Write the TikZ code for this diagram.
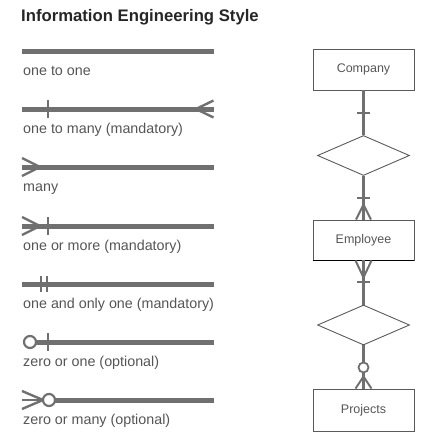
\documentclass[tikz,border=0pt]{standalone}
\usepackage{fontspec}
\setmainfont{Liberation Sans}
\usetikzlibrary{shapes.geometric,calc}
\definecolor{linegray}{HTML}{707070}
\definecolor{textgray}{HTML}{555555}
\definecolor{boxgray}{HTML}{5A5A5A}
\begin{document}
\begin{tikzpicture}[x=1pt,y=1pt,
  legendline/.style={draw=linegray,line width=5pt,line cap=butt},
  legendmark/.style={draw=linegray,line width=2.4pt},
  legendring/.style={draw=linegray,line width=2.2pt,fill=white},
  legendlabel/.style={anchor=base west,inner sep=0pt,text=textgray,font=\fontsize{14.3}{17}\selectfont},
  entity/.style={draw=boxgray,line width=0.9pt,minimum width=101pt,inner sep=0pt,text=textgray,font=\fontsize{12.5}{15}\selectfont},
  relation/.style={draw=boxgray,line width=0.9pt,shape=diamond,minimum width=92pt,minimum height=40pt,inner sep=0pt},
  link/.style={draw=linegray,line width=3pt},
  linkmark/.style={draw=linegray,line width=2pt},
  linkring/.style={draw=linegray,line width=1.8pt,fill=white}]
\useasboundingbox (0,0) rectangle (424,-440);

% title
\node[anchor=base west,inner sep=0pt,text={black!85},font=\fontsize{16.7}{20}\selectfont\bfseries] (title) at (21,-21) {Information Engineering Style};

% ---- legend of line ends ----
% one to one
\coordinate (a1) at (22,-51); \coordinate (b1) at (213.5,-51);
\draw[legendline] (a1) -- (b1);
\node[legendlabel] (t1) at (23,-75) {one to one};

% one to many (mandatory)
\coordinate (a2) at (22,-109); \coordinate (b2) at (213.5,-109);
\draw[legendline] (a2) -- (b2);
\draw[legendmark] (48,-100) -- (48,-118);
\draw[legendmark] (213.5,-100.5) -- (196,-109) -- (213.5,-117.5);
\node[legendlabel] (t2) at (23,-133) {one to many (mandatory)};

% many
\coordinate (a3) at (22,-167); \coordinate (b3) at (213.5,-167);
\draw[legendline] (a3) -- (b3);
\draw[legendmark] (22,-158) -- (40,-167) -- (22,-176);
\node[legendlabel] (t3) at (23,-191) {many};

% one or more (mandatory)
\coordinate (a4) at (22,-226); \coordinate (b4) at (213.5,-226);
\draw[legendline] (a4) -- (b4);
\draw[legendmark] (22,-217) -- (40,-226) -- (22,-235);
\draw[legendmark] (48,-217) -- (48,-235);
\node[legendlabel] (t4) at (23,-250) {one or more (mandatory)};

% one and only one (mandatory)
\coordinate (a5) at (22,-284); \coordinate (b5) at (213.5,-284);
\draw[legendline] (a5) -- (b5);
\draw[legendmark] (41,-276) -- (41,-292);
\draw[legendmark] (47,-276) -- (47,-292);
\node[legendlabel] (t5) at (23,-308) {one and only one (mandatory)};

% zero or one (optional)
\coordinate (a6) at (36,-342); \coordinate (b6) at (213.5,-342);
\draw[legendline] (a6) -- (b6);
\draw[legendmark] (48,-333) -- (48,-351);
\draw[legendring] (30,-342) circle[radius=6];
\node[legendlabel] (t6) at (23,-366) {zero or one (optional)};

% zero or many (optional)
\coordinate (a7) at (49,-400); \coordinate (b7) at (213.5,-400);
\draw[legendline] (a7) -- (b7);
\draw[legendmark] (22,-391) -- (43,-400) -- (22,-409);
\draw[legendmark] (22,-400) -- (43,-400);
\draw[legendring] (49,-400) circle[radius=6];
\node[legendlabel] (t7) at (23,-424) {zero or many (optional)};

% ---- example diagram ----
\node[entity,minimum height=41pt] (company) at (363.5,-69.5) {Company};
\node[relation] (rel1) at (363.5,-155.5) {};
\node[entity,minimum height=40pt] (employee) at (363.5,-240) {Employee};
\node[relation] (rel2) at (363.5,-325) {};
\node[entity,minimum height=42pt] (projects) at (363.5,-410) {Projects};
\draw[black,line width=0.9pt] (employee.south west) -- (employee.south east);

% company -- rel1 : exactly one
\draw[link] (company.south) -- (rel1.north);
\draw[linkmark] ($(company.south)+(-6.5,-23)$) -- ($(company.south)+(6.5,-23)$);

% rel1 -- employee : one or more
\draw[link] (rel1.south) -- (employee.north);
\draw[linkmark] ($(rel1.south)+(-6.5,-22)$) -- ($(rel1.south)+(6.5,-22)$);
\draw[linkmark] ($(employee.north)+(-7.5,0)$) -- ($(employee.north)+(0,15)$) -- ($(employee.north)+(7.5,0)$);

% employee -- rel2 : one or more
\draw[link] (employee.south) -- (rel2.north);
\draw[linkmark] ($(employee.south)+(-8,0)$) -- ($(employee.south)+(0,-17)$) -- ($(employee.south)+(8,0)$);
\draw[linkmark] ($(employee.south)+(-6.5,-22)$) -- ($(employee.south)+(6.5,-22)$);

% rel2 -- projects : zero or many
\draw[link] (rel2.south) -- (projects.north);
\draw[linkmark] ($(projects.north)+(-8,0)$) -- ($(projects.north)+(0,12)$) -- ($(projects.north)+(8,0)$);
\draw[linkring] ($(rel2.south)+(0,-22)$) circle[radius=5];
\end{tikzpicture}
\end{document}
